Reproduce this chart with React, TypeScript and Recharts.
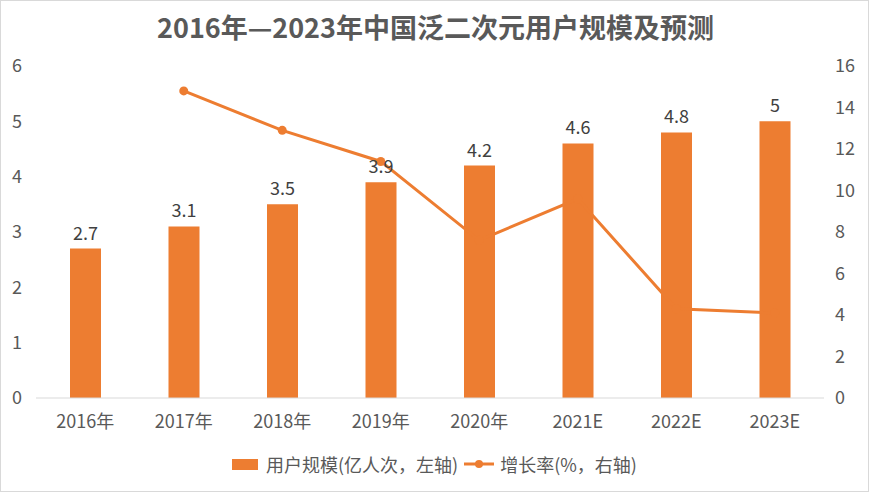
import { ComposedChart, Bar, Line, XAxis, YAxis, Legend, LabelList } from "recharts"

const years = ["2016年", "2017年", "2018年", "2019年", "2020年", "2021E", "2022E", "2023E"]
const users = [2.7, 3.1, 3.5, 3.9, 4.2, 4.6, 4.8, 5]
const growth = [null, 14.8, 12.9, 11.4, 7.6, 9.6, 4.3, 4.1]
const leftTicks = [0, 1, 2, 3, 4, 5, 6]
const rightTicks = [0, 2, 4, 6, 8, 10, 12, 14, 16]

const ORANGE = "#ED7D31"
const TEXT = "#595959"
const FONT = "'Noto Sans CJK SC', 'Noto Sans', sans-serif"

const data = years.map((year, i) => ({ year, users: users[i], growth: growth[i] }))

function LegendContent() {
  return (
    <div
      style={{
        display: "flex",
        justifyContent: "center",
        alignItems: "center",
        height: 32,
        fontFamily: FONT,
        fontSize: 18,
        color: TEXT,
      }}
    >
      <span style={{ display: "inline-block", width: 26, height: 11, background: ORANGE, marginRight: 8 }}></span>
      <span>用户规模(亿人次，左轴)</span>
      <svg width={30} height={12} style={{ marginLeft: 6, marginRight: 6 }}>
        <line x1={0} y1={6} x2={30} y2={6} stroke={ORANGE} strokeWidth={3} />
        <circle cx={15} cy={6} r={4} fill={ORANGE} />
      </svg>
      <span>增长率(%，右轴)</span>
    </div>
  )
}

export default function App() {
  return (
    <div
      style={{
        position: "absolute",
        left: 0,
        top: 0,
        width: 869,
        height: 492,
        boxSizing: "border-box",
        border: "1px solid #d9d9d9",
        background: "#fff",
      }}
    >
      <div
        style={{
          position: "absolute",
          left: 0,
          top: 8,
          width: 869,
          textAlign: "center",
          fontFamily: FONT,
          fontWeight: 700,
          fontSize: 27,
          lineHeight: "36px",
          color: TEXT,
        }}
      >
        2016年—2023年中国泛二次元用户规模及预测
      </div>
      <div style={{ position: "absolute", left: -1, top: -1 }}>
        <ComposedChart width={869} height={492} data={data} margin={{ top: 66, right: 0, left: 0, bottom: 0 }}>
          <XAxis
            dataKey="year"
            height={50}
            tickLine={false}
            axisLine={{ stroke: "#d9d9d9" }}
            tickMargin={11}
            tick={{ fill: TEXT, fontSize: 18, fontFamily: FONT }}
            interval={0}
          />
          <YAxis
            yAxisId="left"
            orientation="left"
            width={36}
            domain={[0, 6]}
            ticks={leftTicks}
            tickLine={false}
            axisLine={false}
            tickMargin={8}
            tick={{ fill: TEXT, fontSize: 18, fontFamily: FONT }}
          />
          <YAxis
            yAxisId="right"
            orientation="right"
            width={45}
            domain={[0, 16]}
            ticks={rightTicks}
            tickLine={false}
            axisLine={false}
            tickMargin={5}
            tick={{ fill: TEXT, fontSize: 18, fontFamily: FONT, textAnchor: "start" }}
          />
          <Legend verticalAlign="bottom" height={44} content={<LegendContent />} />
          <Line
            yAxisId="right"
            dataKey="growth"
            name="增长率(%，右轴)"
            stroke={ORANGE}
            strokeWidth={3}
            dot={{ r: 4.5, fill: ORANGE, stroke: ORANGE, strokeWidth: 0 }}
            connectNulls={false}
            isAnimationActive={false}
          />
          <Bar yAxisId="left" dataKey="users" name="用户规模(亿人次，左轴)" fill={ORANGE} barSize={31} isAnimationActive={false}>
            <LabelList
              dataKey="users"
              position="top"
              offset={9}
              style={{ fill: "#404040", fontSize: 18, fontFamily: FONT }}
            />
          </Bar>
        </ComposedChart>
      </div>
    </div>
  )
}
